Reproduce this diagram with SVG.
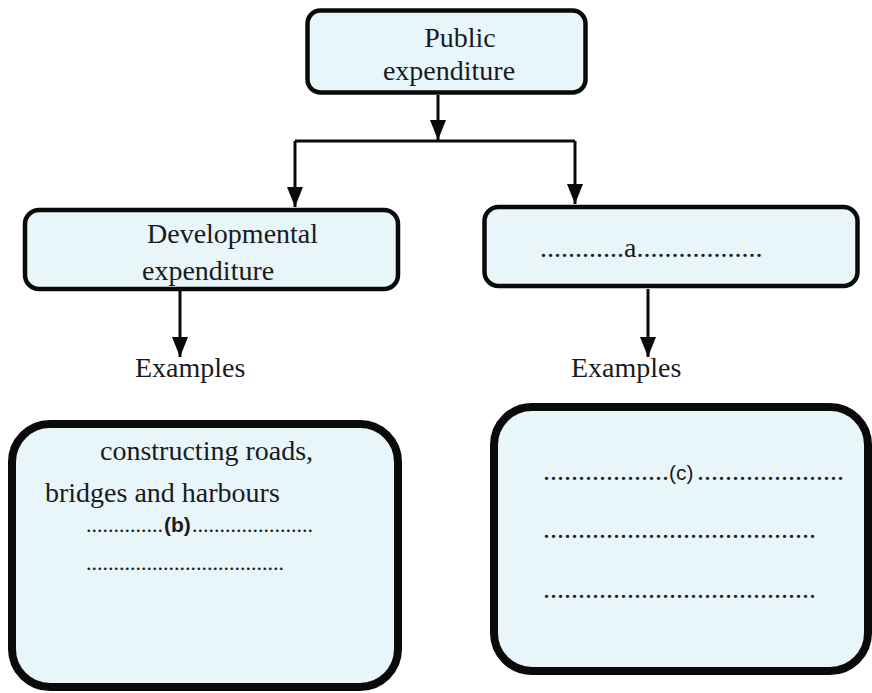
<svg xmlns="http://www.w3.org/2000/svg" width="872" height="693" viewBox="0 0 872 693">
  <style>
    .box { fill: #e8f5f9; stroke: #0a0a0a; }
    .thin { stroke-width: 4.5; }
    .thick { stroke-width: 8; }
    .lbl { font-family: "Liberation Serif", "Times New Roman", serif; font-size: 28px; fill: #1a1a22; }
    .dots { font-family: "Liberation Serif", "Times New Roman", serif; font-size: 22px; fill: #1a1a22; }
    .dots-wide { font-family: "Liberation Serif", "Times New Roman", serif; font-size: 28px; fill: #1a1a22; }
    .tag { font-family: "Liberation Sans", Arial, sans-serif; font-size: 21px; fill: #1a1a22; }
    .wire { fill: none; stroke: #0a0a0a; stroke-width: 3; }
  </style>
  <defs>
    <marker id="arrow" viewBox="0 0 20 16" refX="20" refY="8" markerWidth="20" markerHeight="16" markerUnits="userSpaceOnUse" orient="auto">
      <path d="M0,0 L20,8 L0,16 Z" fill="#0a0a0a"/>
    </marker>
  </defs>
  <rect width="872" height="693" fill="#ffffff"/>

  <g id="connectors">
    <path class="wire" d="M438,95 V140" marker-end="url(#arrow)"/>
    <path class="wire" d="M295,141 H575"/>
    <path class="wire" d="M295,141 V207" marker-end="url(#arrow)"/>
    <path class="wire" d="M575,141 V204" marker-end="url(#arrow)"/>
    <path class="wire" d="M180,291 V357" marker-end="url(#arrow)"/>
    <path class="wire" d="M648,289 V357" marker-end="url(#arrow)"/>
  </g>

  <g id="public-expenditure">
    <rect class="box thin" x="307.5" y="10.5" width="278" height="82" rx="13"/>
    <text class="lbl" x="460" y="47" text-anchor="middle">Public</text>
    <text class="lbl" x="449" y="80" text-anchor="middle">expenditure</text>
  </g>

  <g id="developmental-expenditure">
    <rect class="box thin" x="25" y="210" width="373" height="79" rx="14"/>
    <text class="lbl" x="147" y="243">Developmental</text>
    <text class="lbl" x="142" y="280">expenditure</text>
  </g>

  <g id="blank-a">
    <rect class="box thin" x="484.5" y="207" width="373" height="79" rx="14"/>
    <text class="lbl" x="540" y="257">............a..................</text>
  </g>

  <g id="examples-left">
    <text class="lbl" x="135" y="377">Examples</text>
  </g>
  <g id="examples-right">
    <text class="lbl" x="571" y="377">Examples</text>
  </g>

  <g id="examples-developmental">
    <rect class="box thick" x="12" y="424" width="386" height="263" rx="38"/>
    <text class="lbl" x="100" y="460">constructing roads,</text>
    <text class="lbl" x="45" y="502">bridges and harbours</text>
    <text class="dots" x="86" y="532">..............</text>
    <text class="tag" x="164" y="532" font-weight="bold">(b)</text>
    <text class="dots" x="192" y="532">......................</text>
    <text class="dots" x="86" y="570">....................................</text>
  </g>

  <g id="examples-blank">
    <rect class="box thick" x="494" y="407" width="374" height="264" rx="38"/>
    <text class="dots-wide" x="543" y="480">..................</text>
    <text class="tag" x="669" y="480" font-size="24">(c)</text>
    <text class="dots-wide" x="697" y="480">.....................</text>
    <text class="dots-wide" x="543" y="538">.......................................</text>
    <text class="dots-wide" x="543" y="598">.......................................</text>
  </g>
</svg>
